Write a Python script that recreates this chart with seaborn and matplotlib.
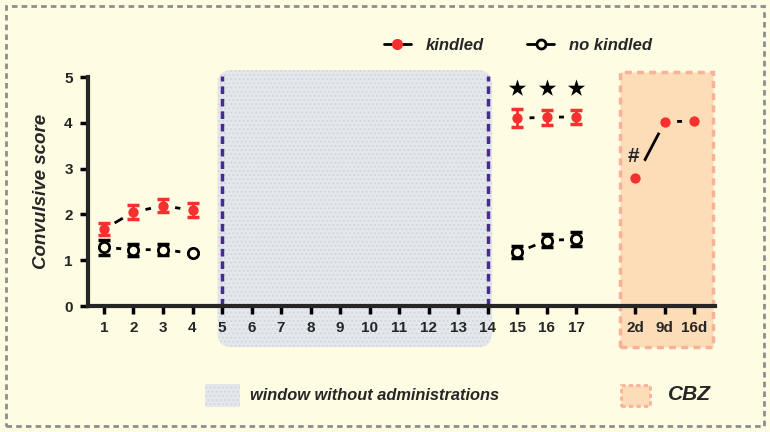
import numpy as np
import pandas as pd
import matplotlib
matplotlib.use('Agg')
import matplotlib.pyplot as plt
from matplotlib.patches import Rectangle, FancyBboxPatch
from matplotlib.lines import Line2D
import seaborn as sns

# data
days = [1, 2, 3, 4, 15, 16, 17]
kindled = [1.68, 2.05, 2.19, 2.09, 4.10, 4.12, 4.13]
kindled_err = [0.13, 0.15, 0.14, 0.15, 0.20, 0.16, 0.15]
no_kindled = [1.28, 1.23, 1.23, 1.15, 1.17, 1.43, 1.46]
no_kindled_err = [0.16, 0.13, 0.12, 0.0, 0.13, 0.15, 0.16]
cbz_labels = ['2d', '9d', '16d']
cbz_pos = [19, 20, 21]
cbz_kindled = [2.79, 4.02, 4.04]
star_days = [15, 16, 17]
star_level = 4.75

tick_pos = list(range(1, 18)) + cbz_pos
tick_labels = [str(i) for i in range(1, 18)] + cbz_labels

BG = '#FEFCE3'
RED = '#F5302E'
WIN = '#E4E8EC'
WIN_DOT = '#D0D6DD'
PEACH = '#FDDDB8'

sns.set_style('ticks')
plt.rcParams['font.family'] = ['Liberation Sans', 'DejaVu Sans']
plt.rcParams['font.weight'] = 'bold'
plt.rcParams['hatch.linewidth'] = 0.8

fig = plt.figure(figsize=(7.7, 4.32), dpi=100, facecolor=BG)
ax = fig.add_axes([88 / 770, 1 - 306 / 432, (715 - 88) / 770, (306 - 77) / 432])
ax.set_facecolor(BG)
ax.patch.set_alpha(0)

# long table for the connecting lines
seg = []
for i, d in enumerate(days):
    grp = 'a' if d < 10 else 'b'
    seg.append({'x': d, 'y': kindled[i], 'series': 'kindled', 'seg': 'k' + grp})
    seg.append({'x': d, 'y': no_kindled[i], 'series': 'no kindled', 'seg': 'n' + grp})
for p, v in zip(cbz_pos, cbz_kindled):
    seg.append({'x': p, 'y': v, 'series': 'kindled', 'seg': 'kc'})
df = pd.DataFrame(seg)

# shaded window and CBZ box
win = FancyBboxPatch((4.85, -0.9), 14.15 - 4.85, 5.15 + 0.9,
                     boxstyle='round,pad=0,rounding_size=0.5', mutation_aspect=0.64,
                     facecolor=WIN, edgecolor=WIN_DOT, hatch='....',
                     linewidth=0, clip_on=False, zorder=0)
ax.add_patch(win)
cbz = Rectangle((18.49, -0.9), 21.64 - 18.49, 5.11 + 0.9, facecolor=PEACH,
                edgecolor='#F8B29A', linestyle=(0, (2, 1.5)), linewidth=2.5,
                clip_on=False, zorder=0)
ax.add_patch(cbz)

for xv in [5, 14]:
    ax.plot([xv, xv], [0, 5.02], color='#4A2A8A', linewidth=2.5,
            linestyle=(0, (2.2, 1.4)), zorder=1, clip_on=False)

sns.lineplot(data=df, x='x', y='y', units='seg', estimator=None, color='black',
             linewidth=2, legend=False, ax=ax, zorder=2)

# halos to cut the lines short near each point
allx = days + days + cbz_pos
ally = kindled + no_kindled + cbz_kindled
hal = [BG] * len(days) * 2 + [PEACH] * 3
ax.scatter(allx, ally, s=315, c=hal, linewidths=0, zorder=3)
ax.scatter([19.05], [2.98], s=300, c=PEACH, linewidths=0, zorder=3)

ax.errorbar(days, kindled, yerr=kindled_err, fmt='none', ecolor=RED,
            elinewidth=2, capsize=4.5, capthick=2.5, zorder=4)
ax.errorbar(days, no_kindled, yerr=no_kindled_err, fmt='none', ecolor='black',
            elinewidth=2, capsize=4.5, capthick=2.5, zorder=4)
sns.scatterplot(x=days + cbz_pos, y=kindled + cbz_kindled, color=RED, s=55,
                linewidth=0, ax=ax, zorder=5)
sns.scatterplot(x=days, y=no_kindled, facecolor=BG, edgecolor='black', s=55,
                linewidth=2, ax=ax, zorder=5)
sns.scatterplot(x=star_days, y=[star_level] * 3, marker='*', color='black', s=170,
                linewidth=0, ax=ax, zorder=5)
ax.text(18.93, 3.26, '#', fontsize=15, fontweight='bold', ha='center', va='center', zorder=6)

ax.set_xlim(0.46, 21.7)
ax.set_ylim(0, 5)
ax.set_xticks(tick_pos)
ax.set_xticklabels(tick_labels, fontsize=11, fontweight='bold')
ax.set_yticks(range(6))
ax.set_yticklabels([str(i) for i in range(6)], fontsize=11, fontweight='bold')
ax.tick_params(axis='both', width=2.5, length=6, color='black', pad=5)
ax.set_xlabel('')
ax.set_ylabel('Convulsive score', fontsize=13.5, fontweight='bold', style='italic', labelpad=10)
for s in ['top', 'right']:
    ax.spines[s].set_visible(False)
for s in ['left', 'bottom']:
    ax.spines[s].set_linewidth(3)
    ax.spines[s].set_zorder(6)

# top legend
h1 = Line2D([], [], color='black', linewidth=2, marker='o', markerfacecolor=RED,
            markeredgecolor=RED, markersize=7)
h2 = Line2D([], [], color='black', linewidth=2, marker='o', markerfacecolor=BG,
            markeredgecolor='black', markeredgewidth=2, markersize=6.5)
fig.legend([h1, h2], ['kindled', 'no kindled'], loc='center', bbox_to_anchor=(518 / 770, 1 - 45 / 432),
           ncol=2, frameon=False, handlelength=1.6, handletextpad=0.9, columnspacing=2.6,
           prop={'weight': 'bold', 'style': 'italic', 'size': 12})

# bottom legend
fig.add_artist(Rectangle((205 / 770, 1 - 407 / 432), 35 / 770, 23 / 432, transform=fig.transFigure,
                         facecolor=WIN, edgecolor=WIN_DOT, hatch='....', linewidth=0))
fig.text(250 / 770, 1 - 395 / 432, 'window without administrations', fontsize=11.8,
         fontweight='bold', style='italic', va='center')
fig.add_artist(Rectangle((621 / 770, 1 - 406 / 432), 29 / 770, 21 / 432, transform=fig.transFigure,
                         facecolor=PEACH, edgecolor='#F8B29A', linestyle=(0, (1.5, 1.2)),
                         linewidth=2))
fig.text(668 / 770, 1 - 395 / 432, 'CBZ', fontsize=15, fontweight='bold', style='italic', va='center')

# dashed outer frame
fig.add_artist(Rectangle((6 / 770, 6 / 432), 758 / 770, 420 / 432, transform=fig.transFigure,
                         facecolor='none', edgecolor='#8E8E8E', linestyle=(0, (2, 1.5)), linewidth=2))

fig.savefig('out.png', dpi=100, facecolor=BG)
